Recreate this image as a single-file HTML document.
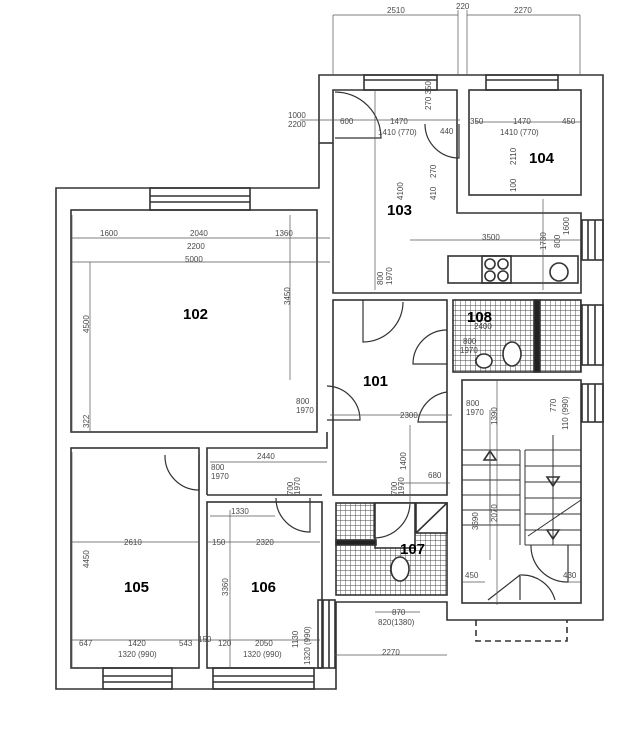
<!DOCTYPE html>
<html><head><meta charset="utf-8"><style>
html,body{margin:0;padding:0;background:#fff}
svg{display:block}
text{font-family:"Liberation Sans",sans-serif}
.d{font-size:8px;fill:#4a4a4a}
.r{font-size:15px;font-weight:bold;fill:#000}
</style></head><body>
<svg width="631" height="745" viewBox="0 0 631 745" xmlns="http://www.w3.org/2000/svg">
<defs>
<pattern id="t" width="5" height="5" patternUnits="userSpaceOnUse">
<rect width="5" height="5" fill="#fff"/><path d="M0 0H5M0 0V5" stroke="#444" stroke-width="0.9"/>
</pattern>
</defs>
<g fill="none" stroke="#333" stroke-width="1.6">
<path d="M319 188V75H603V620H447V602H336V689H56V188Z"/>
<rect x="71" y="210" width="246" height="222"/>
<rect x="71" y="448" width="128" height="220"/>
<rect x="207" y="502" width="115" height="166"/>
<path d="M207 495V448H327V432"/>
<path d="M207 495H322"/>
<path d="M333 143V90H457V213H581V293H333Z"/>
<path d="M319 143H333"/>
<rect x="469" y="90" width="112" height="105"/>
<rect x="333" y="300" width="114" height="195"/>
<rect x="453" y="300" width="128" height="72" fill="url(#t)"/>
<rect x="462" y="380" width="119" height="223"/>
<rect x="336" y="503" width="111" height="92" fill="url(#t)"/>
<rect x="375" y="503" width="40" height="45" fill="#fff"/>
<rect x="416" y="503" width="31" height="30" fill="#fff"/>
<path d="M416 533L447 503"/>
<rect x="336" y="540" width="40" height="5" fill="#222"/>
<rect x="534" y="300" width="6" height="72" fill="#222"/>
<rect x="448" y="256" width="130" height="27"/>
<rect x="482" y="256" width="29" height="27"/>
<circle cx="559" cy="272" r="9"/>
<circle cx="490" cy="264" r="5"/><circle cx="503" cy="264" r="5"/>
<circle cx="490" cy="276" r="5"/><circle cx="503" cy="276" r="5"/>
<ellipse cx="512" cy="354" rx="9" ry="12" fill="#fff"/>
<ellipse cx="400" cy="569" rx="9" ry="12" fill="#fff"/>
<ellipse cx="484" cy="361" rx="8" ry="7" fill="#fff"/>
<rect x="150" y="188" width="100" height="22"/><path d="M150 196H250M150 202H250"/>
<rect x="103" y="668" width="69" height="21"/><path d="M103 676H172M103 682H172"/>
<rect x="213" y="668" width="101" height="21"/><path d="M213 676H314M213 682H314"/>
<rect x="364" y="75" width="73" height="15"/><path d="M364 80H437"/>
<rect x="486" y="75" width="72" height="15"/><path d="M486 80H558"/>
<rect x="582" y="220" width="21" height="40"/><path d="M588 220V260M595 220V260"/>
<rect x="582" y="305" width="21" height="60"/><path d="M588 305V365M595 305V365"/>
<rect x="582" y="384" width="21" height="38"/><path d="M588 384V422M595 384V422"/>
<rect x="318" y="600" width="17" height="68"/><path d="M323 600V668M329 600V668"/>
<path d="M476 620V641H567V620" stroke-dasharray="6 4"/>
<path d="M335 92A46 46 0 0 1 381 138H335" stroke-width="1.2"/>
<path d="M425 124A34 34 0 0 0 459 158V124" stroke-width="1.2"/>
<path d="M363 300V342A40 40 0 0 0 403 302" stroke-width="1.2"/>
<path d="M447 330A34 34 0 0 0 413 364H447" stroke-width="1.2"/>
<path d="M447 392A34 34 0 0 0 418 422H447" stroke-width="1.2"/>
<path d="M327 386A34 34 0 0 1 360 420H327" stroke-width="1.2"/>
<path d="M165 455A34 34 0 0 0 199 490V455" stroke-width="1.2"/>
<path d="M276 498A34 34 0 0 0 310 532V498" stroke-width="1.2"/>
<path d="M374 503V538A36 36 0 0 0 410 503" stroke-width="1.2"/>
<path d="M488 600L520 575V600M555 600A34 34 0 0 0 521 575" stroke-width="1.2"/>
<path d="M531 545A36 36 0 0 0 568 582V545" stroke-width="1.2"/>
<g stroke-width="1">
<path d="M462 450H520M462 465H520M462 480H520M462 495H520M462 510H520M462 525H520"/>
<path d="M525 450H581M525 466H581M525 482H581M525 498H581M525 514H581M525 530H581M525 545H581"/>
<path d="M520 450V545M525 450V545"/>
<path d="M528 536L581 500"/>
<path d="M490 452V522M553 435V545"/>
</g>
<path d="M484 460L490 451L496 460Z"/>
<path d="M547 477L553 486L559 477Z"/>
<path d="M547 530L553 539L559 530Z"/>
</g>
<g stroke="#555" stroke-width="0.7" fill="none">
<path d="M333 15H458M467 15H580M333 15V75M458 10V75M467 10V75M580 15V75"/>
<path d="M72 238H330M72 262H330M72 215V432M90 262V432"/>
<path d="M290 215V380M72 452V668M71 542H200M207 542H320M210 516H275M230 510V668"/>
<path d="M210 462H327M330 415H452M375 90V290M410 240H581M300 120H460M475 122H581M543 199V290"/>
<path d="M497 380V605M490 410V560M410 425V505M400 483H450M70 640H320M335 655H447M375 612H420M485 582H462M568 582H581"/>
</g>
<text class="r" x="183" y="319">102</text>
<text class="r" x="387" y="215">103</text>
<text class="r" x="529" y="163">104</text>
<text class="r" x="363" y="386">101</text>
<text class="r" x="467" y="322">108</text>
<text class="r" x="400" y="554">107</text>
<text class="r" x="124" y="592">105</text>
<text class="r" x="251" y="592">106</text>
<g class="d">
<text x="387" y="13">2510</text><text x="456" y="9">220</text><text x="514" y="13">2270</text>
<text x="288" y="118">1000</text><text x="288" y="127">2200</text>
<text x="340" y="124">600</text><text x="390" y="124">1470</text><text x="378" y="135">1410 (770)</text>
<text x="440" y="134">440</text><text x="470" y="124">350</text><text x="513" y="124">1470</text><text x="562" y="124">450</text>
<text x="500" y="135">1410 (770)</text>
<text x="482" y="240">3500</text>
<text x="100" y="236">1600</text><text x="190" y="236">2040</text><text x="275" y="236">1360</text>
<text x="187" y="249">2200</text><text x="185" y="262">5000</text>
<text x="296" y="404">800</text><text x="296" y="413">1970</text>
<text x="400" y="418">2300</text>
<text x="466" y="406">800</text><text x="466" y="415">1970</text>
<text x="463" y="344">800</text><text x="460" y="353">1970</text>
<text x="474" y="329">2400</text>
<text x="257" y="459">2440</text><text x="211" y="470">800</text><text x="211" y="479">1970</text>
<text x="231" y="514">1330</text><text x="124" y="545">2610</text><text x="212" y="545">150</text><text x="256" y="545">2320</text>
<text x="79" y="646">647</text><text x="128" y="646">1420</text><text x="179" y="646">543</text><text x="198" y="642">150</text>
<text x="218" y="646">120</text><text x="255" y="646">2050</text>
<text x="118" y="657">1320 (990)</text><text x="243" y="657">1320 (990)</text>
<text x="428" y="478">680</text><text x="392" y="615">870</text><text x="378" y="625">820(1380)</text>
<text x="465" y="578">450</text><text x="563" y="578">430</text>
<text x="382" y="655">2270</text>
<text transform="translate(403,200) rotate(-90)">4100</text>
<text transform="translate(89,333) rotate(-90)">4500</text>
<text transform="translate(290,305) rotate(-90)">3450</text>
<text transform="translate(89,428) rotate(-90)">322</text>
<text transform="translate(89,568) rotate(-90)">4450</text>
<text transform="translate(228,596) rotate(-90)">3360</text>
<text transform="translate(383,285) rotate(-90)">800</text><text transform="translate(392,285) rotate(-90)">1970</text>
<text transform="translate(516,165) rotate(-90)">2110</text>
<text transform="translate(516,192) rotate(-90)">100</text>
<text transform="translate(546,250) rotate(-90)">1730</text>
<text transform="translate(560,248) rotate(-90)">800</text><text transform="translate(569,235) rotate(-90)">1600</text>
<text transform="translate(497,425) rotate(-90)">1390</text>
<text transform="translate(497,522) rotate(-90)">2070</text>
<text transform="translate(478,530) rotate(-90)">3690</text>
<text transform="translate(406,470) rotate(-90)">1400</text>
<text transform="translate(397,495) rotate(-90)">700</text><text transform="translate(404,495) rotate(-90)">1970</text>
<text transform="translate(293,495) rotate(-90)">700</text><text transform="translate(300,495) rotate(-90)">1970</text>
<text transform="translate(298,648) rotate(-90)">1130</text>
<text transform="translate(310,665) rotate(-90)">1320 (990)</text>
<text transform="translate(556,412) rotate(-90)">770</text><text transform="translate(568,430) rotate(-90)">110 (990)</text>
<text transform="translate(436,200) rotate(-90)">410</text><text transform="translate(436,178) rotate(-90)">270</text>
<text transform="translate(431,110) rotate(-90)">270 350</text>
</g>
</svg>
</body></html>
